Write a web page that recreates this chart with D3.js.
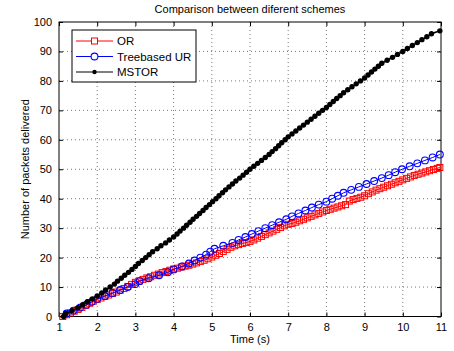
<!DOCTYPE html>
<html>
<head>
<meta charset="utf-8">
<script src="https://cdnjs.cloudflare.com/ajax/libs/d3/7.8.5/d3.min.js"></script>
<style>
  body { margin: 0; background: #fff; }
  svg text { font-family: "Liberation Sans", Arial, sans-serif; fill: #000; }
</style>
</head>
<body>
<div id="graphicContainer"></div>
<script>
// MSTOR: time of each delivered packet, and the running count
var timeMSTOR = [1.12, 1.18, 1.34, 1.50, 1.62, 1.74, 1.87, 2.00, 2.12, 2.22, 2.34, 2.45, 2.53, 2.63, 2.72, 2.82, 2.91, 3.00, 3.08, 3.18,
  3.27, 3.36, 3.45, 3.57, 3.67, 3.79, 3.89, 4.00, 4.09, 4.17, 4.26, 4.34, 4.43, 4.51, 4.60, 4.68, 4.77, 4.85, 4.94, 5.02,
  5.11, 5.19, 5.28, 5.36, 5.45, 5.54, 5.63, 5.73, 5.82, 5.91, 6.00, 6.10, 6.20, 6.30, 6.40, 6.50, 6.58, 6.67, 6.75, 6.83,
  6.92, 7.00, 7.10, 7.20, 7.30, 7.40, 7.50, 7.60, 7.70, 7.80, 7.90, 8.00, 8.09, 8.18, 8.27, 8.36, 8.45, 8.56, 8.67, 8.78,
  8.89, 9.00, 9.09, 9.18, 9.27, 9.36, 9.45, 9.59, 9.73, 9.86, 10.00, 10.12, 10.25, 10.38, 10.50, 10.63, 10.75, 10.97];
var pktMSTOR = [0, 1, 2, 3, 4, 5, 6, 7, 8, 9, 10, 11, 12, 13, 14, 15, 16, 17, 18, 19,
  20, 21, 22, 23, 24, 25, 26, 27, 28, 29, 30, 31, 32, 33, 34, 35, 36, 37, 38, 39,
  40, 41, 42, 43, 44, 45, 46, 47, 48, 49, 50, 51, 52, 53, 54, 55, 56, 57, 58, 59,
  60, 61, 62, 63, 64, 65, 66, 67, 68, 69, 70, 71, 72, 73, 74, 75, 76, 77, 78, 79,
  80, 81, 82, 83, 84, 85, 86, 87, 88, 89, 90, 91, 92, 93, 94, 95, 96, 97];

// Treebased UR
var timeTree = [1.20, 1.38, 1.55, 1.72, 1.86, 2.00, 2.20, 2.40, 2.60, 2.80, 3.00, 3.11, 3.35, 3.62, 3.85, 4.00, 4.22, 4.40, 4.55, 4.70,
  4.85, 4.96, 5.07, 5.30, 5.54, 5.70, 5.88, 6.05, 6.22, 6.40, 6.58, 6.76, 6.95, 7.10, 7.27, 7.45, 7.62, 7.80, 8.00, 8.15,
  8.30, 8.45, 8.65, 8.85, 9.05, 9.25, 9.45, 9.63, 9.80, 9.98, 10.18, 10.38, 10.58, 10.78, 10.97];
var pktTree = [1, 2, 3, 4, 5, 6, 7, 8, 9, 10, 11, 12, 13, 14, 15, 16, 17, 18, 19, 20,
  21, 22, 23, 24, 25, 26, 27, 28, 29, 30, 31, 32, 33, 34, 35, 36, 37, 38, 39, 40,
  41, 42, 43, 44, 45, 46, 47, 48, 49, 50, 51, 52, 53, 54, 55];

// OR, sampled every 0.1 s
var timeOR = [1.1, 1.2, 1.3, 1.4, 1.5, 1.6, 1.7, 1.8, 1.9, 2.0, 2.1, 2.2, 2.3, 2.4, 2.5, 2.6, 2.7, 2.8, 2.9, 3.0,
  3.1, 3.2, 3.3, 3.4, 3.5, 3.6, 3.7, 3.8, 3.9, 4.0, 4.1, 4.2, 4.3, 4.4, 4.5, 4.6, 4.7, 4.8, 4.9, 5.0,
  5.1, 5.2, 5.3, 5.4, 5.5, 5.6, 5.7, 5.8, 5.9, 6.0, 6.1, 6.2, 6.3, 6.4, 6.5, 6.6, 6.7, 6.8, 6.9, 7.0,
  7.1, 7.2, 7.3, 7.4, 7.5, 7.6, 7.7, 7.8, 7.9, 8.0, 8.1, 8.2, 8.3, 8.4, 8.5, 8.6, 8.7, 8.8, 8.9, 9.0,
  9.1, 9.2, 9.3, 9.4, 9.5, 9.6, 9.7, 9.8, 9.9, 10.0, 10.1, 10.2, 10.3, 10.4, 10.5, 10.6, 10.7, 10.8, 10.9, 10.97];
var pktOR = [0, 0.6, 1.2, 1.8, 2.4, 3.1, 3.8, 4.5, 5.2, 5.8, 6.3, 6.8, 7.3, 7.8, 8.3, 8.9, 9.5, 10.2, 10.9, 11.6,
  12.1, 12.6, 13.1, 13.5, 14.0, 14.4, 14.9, 15.3, 15.7, 16.1, 16.4, 16.8, 17.1, 17.4, 17.8, 18.2, 18.7, 19.1, 19.6, 20.2,
  20.8, 21.4, 22.1, 22.8, 23.5, 24.0, 24.4, 24.8, 25.1, 25.5, 26.0, 26.6, 27.2, 27.8, 28.4, 29.0, 29.6, 30.2, 30.8, 31.3,
  31.6, 32.0, 32.5, 33.0, 33.5, 34.0, 34.5, 35.0, 35.5, 36.0, 36.4, 36.8, 37.2, 37.6, 38.0, 39.2, 39.7, 40.1, 40.5, 41.0,
  41.7, 42.3, 42.9, 43.4, 43.9, 44.4, 44.9, 45.4, 45.9, 46.4, 46.9, 47.4, 47.9, 48.3, 48.7, 49.1, 49.5, 49.9, 50.3, 50.6];

var xTicks = [1, 2, 3, 4, 5, 6, 7, 8, 9, 10, 11];
var yTicks = [0, 10, 20, 30, 40, 50, 60, 70, 80, 90, 100];
var seriesNames = ["OR", "Treebased UR", "MSTOR"];

var width = 454, height = 351;
var margin = { top: 22, right: 13, bottom: 34.5, left: 59 };
var w = width - margin.left - margin.right;
var h = height - margin.top - margin.bottom;

var svg = d3.select("#graphicContainer").append("svg")
  .attr("width", width).attr("height", height);

var x = d3.scaleLinear().domain([1, 11]).range([0, w]);
var y = d3.scaleLinear().domain([0, 100]).range([h, 0]);

var g = svg.append("g").attr("transform", "translate(" + margin.left + "," + margin.top + ")");

// dotted grid
g.selectAll(".vgrid").data(xTicks.slice(1, -1)).enter().append("line")
  .attr("x1", function (d) { return x(d); }).attr("x2", function (d) { return x(d); })
  .attr("y1", 0).attr("y2", h)
  .attr("stroke", "#555").attr("stroke-width", 0.8).attr("stroke-dasharray", "1,3");
g.selectAll(".hgrid").data(yTicks.slice(1, -1)).enter().append("line")
  .attr("y1", function (d) { return y(d); }).attr("y2", function (d) { return y(d); })
  .attr("x1", 0).attr("x2", w)
  .attr("stroke", "#555").attr("stroke-width", 0.8).attr("stroke-dasharray", "1,3");

// axes, ticks pointing inward on all four sides
var tick = 4;
var xb = g.append("g").attr("transform", "translate(0," + h + ")")
  .call(d3.axisBottom(x).tickValues(xTicks).tickSize(-tick).tickPadding(7));
var xt = g.append("g").call(d3.axisTop(x).tickValues(xTicks).tickSize(-tick).tickFormat(""));
var yl = g.append("g").call(d3.axisLeft(y).tickValues(yTicks).tickSize(-tick).tickPadding(7));
var yr = g.append("g").attr("transform", "translate(" + w + ",0)")
  .call(d3.axisRight(y).tickValues(yTicks).tickSize(-tick).tickFormat(""));
[xb, xt, yl, yr].forEach(function (a) {
  a.select(".domain").remove();
  a.selectAll("line").attr("stroke", "#000");
  a.selectAll("text").attr("font-size", 11).attr("font-family", "Liberation Sans, Arial, sans-serif");
});
g.append("rect").attr("width", w).attr("height", h)
  .attr("fill", "none").attr("stroke", "#000").attr("stroke-width", 1);

// series
var line = d3.line().x(function (d) { return x(d[0]); }).y(function (d) { return y(d[1]); });
var dataOR = timeOR.map(function (t, i) { return [t, pktOR[i]]; });
var dataTree = timeTree.map(function (t, i) { return [t, pktTree[i]]; });
var dataMSTOR = timeMSTOR.map(function (t, i) { return [t, pktMSTOR[i]]; });

g.append("path").datum(dataOR).attr("d", line).attr("fill", "none").attr("stroke", "#f00").attr("stroke-width", 1);
g.selectAll(".sq").data(dataOR).enter().append("rect")
  .attr("x", function (d) { return x(d[0]) - 3; }).attr("y", function (d) { return y(d[1]) - 3; })
  .attr("width", 6).attr("height", 6).attr("fill", "none").attr("stroke", "#f00").attr("stroke-width", 1);

g.append("path").datum(dataTree).attr("d", line).attr("fill", "none").attr("stroke", "#00f").attr("stroke-width", 1);
g.selectAll(".ci").data(dataTree).enter().append("circle")
  .attr("cx", function (d) { return x(d[0]); }).attr("cy", function (d) { return y(d[1]); })
  .attr("r", 3.4).attr("fill", "none").attr("stroke", "#00f").attr("stroke-width", 1.1);

g.append("path").datum(dataMSTOR).attr("d", line).attr("fill", "none").attr("stroke", "#000").attr("stroke-width", 1.6);
g.selectAll(".dt").data(dataMSTOR).enter().append("circle")
  .attr("cx", function (d) { return x(d[0]); }).attr("cy", function (d) { return y(d[1]); })
  .attr("r", 2.7).attr("fill", "#000");

// title and labels
svg.append("text").attr("x", 250).attr("y", 13).attr("text-anchor", "middle")
  .attr("font-size", 11).text("Comparison between diferent schemes");
svg.append("text").attr("x", 250).attr("y", 343).attr("text-anchor", "middle")
  .attr("font-size", 11).text("Time (s)");
svg.append("text").attr("transform", "translate(29," + (margin.top + h / 2) + ") rotate(-90)")
  .attr("text-anchor", "middle").attr("font-size", 11).text("Number of packets delivered");

// legend
var lg = svg.append("g").attr("transform", "translate(72,30)");
lg.append("rect").attr("width", 124).attr("height", 52).attr("fill", "#fff").attr("stroke", "#000").attr("stroke-width", 1);
var colors = ["#f00", "#00f", "#000"];
seriesNames.forEach(function (name, i) {
  var ry = 11 + i * 15.5;
  lg.append("line").attr("x1", 4).attr("x2", 41).attr("y1", ry).attr("y2", ry)
    .attr("stroke", colors[i]).attr("stroke-width", 1);
  if (i === 0) {
    lg.append("rect").attr("x", 22.5 - 3).attr("y", ry - 3).attr("width", 6).attr("height", 6)
      .attr("fill", "#fff").attr("stroke", colors[i]);
  } else if (i === 1) {
    lg.append("circle").attr("cx", 22.5).attr("cy", ry).attr("r", 3.4)
      .attr("fill", "#fff").attr("stroke", colors[i]).attr("stroke-width", 1.1);
  } else {
    lg.append("circle").attr("cx", 22.5).attr("cy", ry).attr("r", 2.2).attr("fill", "#000");
  }
  lg.append("text").attr("x", 45).attr("y", ry + 4).attr("font-size", 11.5).text(name);
});
</script>
</body>
</html>
